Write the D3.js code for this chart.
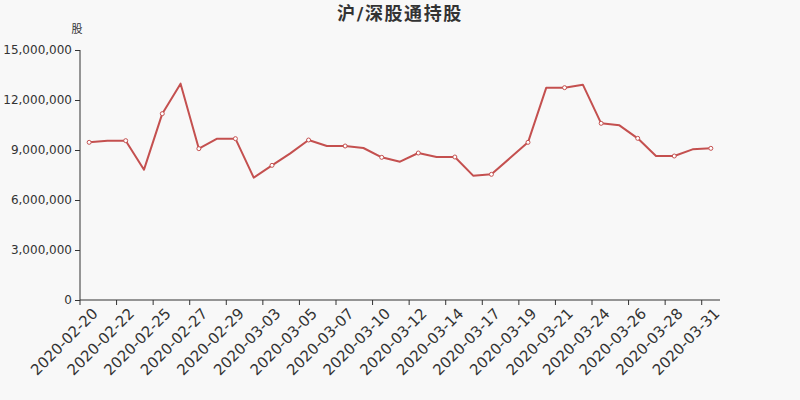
<!DOCTYPE html>
<html>
<head>
<meta charset="utf-8">
<script src="https://cdn.jsdelivr.net/npm/d3@7/dist/d3.min.js"></script>
<style>
  body { margin: 0; background: #f8f8f8; }
  svg { display: block; }
</style>
</head>
<body>
<svg id="chart" width="800" height="400"></svg>
<script>
// categories (trading days)
const dates = [
  '2020-02-20','2020-02-21','2020-02-22','2020-02-24','2020-02-25','2020-02-26',
  '2020-02-27','2020-02-28','2020-02-29','2020-03-02','2020-03-03','2020-03-04',
  '2020-03-05','2020-03-06','2020-03-07','2020-03-09','2020-03-10','2020-03-11',
  '2020-03-12','2020-03-13','2020-03-14','2020-03-16','2020-03-17','2020-03-18',
  '2020-03-19','2020-03-20','2020-03-21','2020-03-23','2020-03-24','2020-03-25',
  '2020-03-26','2020-03-27','2020-03-28','2020-03-30','2020-03-31'
];

// holdings (shares)
const holdings = [
  9460000, 9560000, 9560000, 7820000, 11180000, 12980000,
  9080000, 9680000, 9680000, 7340000, 8080000, 8800000,
  9600000, 9240000, 9240000, 9120000, 8560000, 8300000,
  8820000, 8580000, 8580000, 7460000, 7540000, 8500000,
  9460000, 12740000, 12740000, 12920000, 10600000, 10480000,
  9700000, 8640000, 8640000, 9040000, 9100000
];

const yTicks = [0, 3000000, 6000000, 9000000, 12000000, 15000000];

const FONT = '"DejaVu Sans", "Noto Sans CJK SC", sans-serif';
const margin = { top: 50, right: 80, bottom: 100, left: 80 };
const W = 800, H = 400;
const svg = d3.select('#chart');
svg.append('rect').attr('width', W).attr('height', H).attr('fill', '#f8f8f8');

const x = d3.scaleBand().domain(dates).range([margin.left, W - margin.right]);
const y = d3.scaleLinear().domain([0, 15000000]).range([H - margin.bottom, margin.top]);

// title
svg.append('text')
  .attr('x', 400).attr('y', 20)
  .attr('text-anchor', 'middle')
  .style('font-family', FONT)
  .style('font-size', '18px').style('font-weight', 'bold')
  .style('letter-spacing', '1.6px')
  .attr('fill', '#333')
  .text('沪/深股通持股');

// y axis name
svg.append('text')
  .attr('x', 77).attr('y', 33)
  .attr('text-anchor', 'middle')
  .style('font-family', FONT)
  .style('font-size', '11px')
  .attr('fill', '#333')
  .text('股');

// y axis
const yAxis = svg.append('g')
  .attr('transform', `translate(${margin.left},0)`)
  .call(d3.axisLeft(y).tickValues(yTicks).tickSize(5).tickPadding(3)
    .tickFormat(d3.format(',')));
yAxis.attr('font-family', null).attr('font-size', null);
yAxis.select('.domain').attr('d', `M0,${y(15000000)}V${y(0)}`).attr('stroke', '#333');
yAxis.selectAll('line').attr('stroke', '#333');
yAxis.selectAll('text')
  .attr('fill', '#333')
  .style('font-family', FONT)
  .style('font-size', '12px');

// x axis: ticks on band edges every 2 categories, labels at band centers
const xg = svg.append('g')
  .attr('transform', `translate(0,${H - margin.bottom})`);
xg.append('line')
  .attr('x1', margin.left).attr('x2', W - margin.right)
  .attr('stroke', '#333');
const labelIdx = dates.map((d, i) => i).filter(i => i % 2 === 0);
xg.selectAll('.tk').data(labelIdx).enter().append('line')
  .attr('x1', i => x(dates[i])).attr('x2', i => x(dates[i]))
  .attr('y1', 0).attr('y2', 5)
  .attr('stroke', '#333');
xg.selectAll('.lbl').data(labelIdx).enter().append('text')
  .attr('transform', i => `translate(${x(dates[i]) + x.bandwidth() / 2 + 2},7) rotate(-45)`)
  .attr('text-anchor', 'end')
  .attr('dy', '0.71em')
  .style('font-family', FONT)
  .style('font-size', '15px')
  .attr('fill', '#333')
  .text(i => dates[i]);

// line
const cx = d => x(d) + x.bandwidth() / 2;
const line = d3.line()
  .x((v, i) => cx(dates[i]))
  .y(v => y(v));
svg.append('path')
  .datum(holdings)
  .attr('d', line)
  .attr('fill', 'none')
  .attr('stroke', '#c4504f')
  .attr('stroke-width', 2)
  .attr('stroke-linejoin', 'round');

// markers on every other point
svg.selectAll('.dot')
  .data(holdings.map((v, i) => ({ v, i })).filter(d => d.i % 2 === 0))
  .enter().append('circle')
  .attr('cx', d => cx(dates[d.i]))
  .attr('cy', d => y(d.v))
  .attr('r', 2)
  .attr('fill', '#fff')
  .attr('stroke', '#c4504f')
  .attr('stroke-width', 1);
</script>
</body>
</html>
